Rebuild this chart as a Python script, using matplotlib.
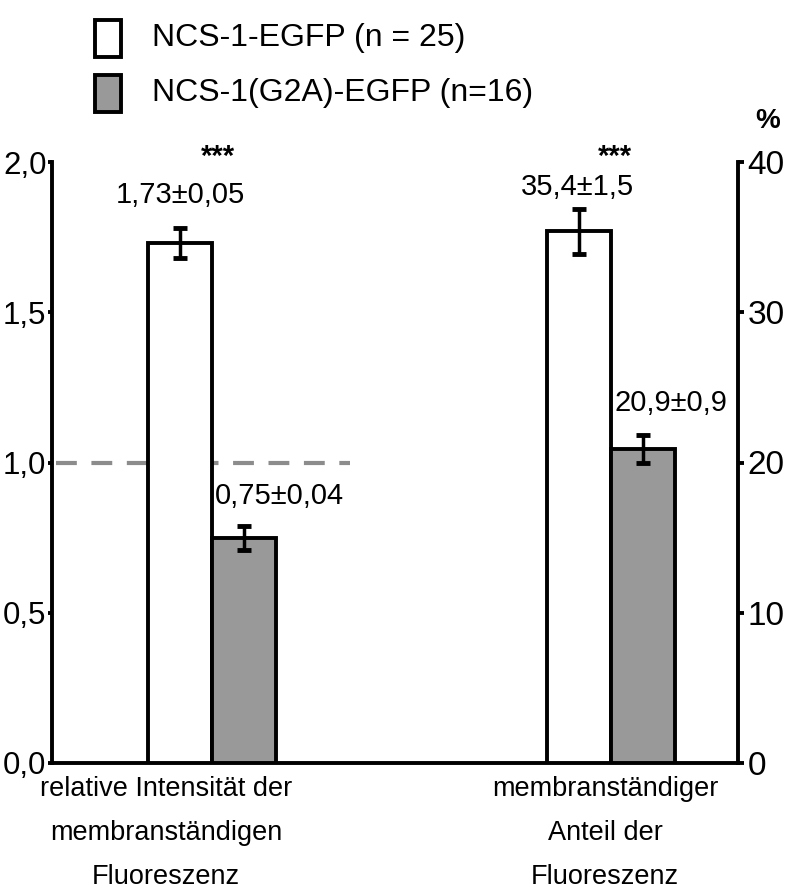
import matplotlib
matplotlib.use("Agg")
import matplotlib.pyplot as plt
from matplotlib.patches import Rectangle

# données
series = ["NCS-1-EGFP (n = 25)", "NCS-1(G2A)-EGFP (n=16)"]
colors = ["white", "#999999"]
rel_int = [1.73, 0.75]
rel_err = [0.05, 0.04]
rel_txt = ["1,73±0,05", "0,75±0,04"]
anteil = [35.4, 20.9]
anteil_err = [1.5, 0.9]
anteil_txt = ["35,4±1,5", "20,9±0,9"]
cat_labels = ["relative Intensität der\nmembranständigen\nFluoreszenz",
              "membranständiger\nAnteil der\nFluoreszenz"]
left_ticks = [0.0, 0.5, 1.0, 1.5, 2.0]
left_ticklabels = ["0,0", "0,5", "1,0", "1,5", "2,0"]
right_ticks = [0, 10, 20, 30, 40]

plt.rcParams["font.family"] = ["Liberation Sans", "DejaVu Sans"]

fig = plt.figure(figsize=(7.99, 8.91), dpi=100)
ax = fig.add_axes([52/799, 128/891, 686/799, 601/891])
ax2 = ax.twinx()

w = 0.16
lw = 2.8
ax.bar([-w/2, w/2], rel_int, width=w, color=colors, edgecolor="black", linewidth=lw, zorder=3)
ax.errorbar([-w/2, w/2], rel_int, yerr=rel_err, fmt="none", ecolor="black",
            elinewidth=2.5, capsize=5, capthick=3.5, zorder=4)
ax2.bar([1 - w/2, 1 + w/2], anteil, width=w, color=colors, edgecolor="black", linewidth=lw, zorder=3)
ax2.errorbar([1 - w/2, 1 + w/2], anteil, yerr=anteil_err, fmt="none", ecolor="black",
             elinewidth=2.5, capsize=5, capthick=3.5, zorder=4)

xl = (-0.401, 1.318)
ax.set_xlim(xl)
ax.set_ylim(0, 2.0)
ax2.set_ylim(0, 40)

# ligne de référence
ax.hlines(1.0, xl[0] + 0.01, 0.345, colors="#8c8c8c", linewidth=3, linestyles=(0, (5, 3.5)), zorder=2)

for a in (ax, ax2):
    a.spines["top"].set_visible(False)
    for s in a.spines.values():
        s.set_linewidth(lw)
ax.spines["right"].set_visible(False)
ax2.spines["left"].set_visible(False)
ax2.spines["bottom"].set_visible(False)

ax.set_yticks(left_ticks)
ax.set_yticklabels(left_ticklabels)
ax.tick_params(axis="y", length=3, width=lw, labelsize=22.5, pad=1)
ax2.set_yticks(right_ticks)
ax2.tick_params(axis="y", length=4, width=lw, labelsize=24, pad=3)
ax.set_xticks([])

# valeurs
ax.text(-w/2, rel_int[0] + 0.16, rel_txt[0], ha="center", va="center", fontsize=21)
ax.text(w/2 + 0.09, rel_int[1] + 0.139, rel_txt[1], ha="center", va="center", fontsize=21)
ax2.text(1 - w/2 - 0.005, anteil[0] + 2.95, anteil_txt[0], ha="center", va="center", fontsize=21)
ax2.text(1 + w/2 + 0.07, anteil[1] + 3.06, anteil_txt[1], ha="center", va="center", fontsize=21)
ax.text(0.015, 2.018, "***", ha="center", va="center", fontsize=21, fontweight="bold", clip_on=False)
ax.text(1.01, 2.018, "***", ha="center", va="center", fontsize=21, fontweight="bold", clip_on=False)
ax2.text(1.318 + 0.075, 42.7, "%", ha="center", va="center", fontsize=20, fontweight="bold", clip_on=False)

# étiquettes des catégories
ax.text(-0.115, -0.042, cat_labels[0], ha="center", va="top", fontsize=19.5, linespacing=1.9)
ax.text(0.985, -0.042, cat_labels[1], ha="center", va="top", fontsize=19.5, linespacing=1.9)

# légende
for i, (lab, c) in enumerate(zip(series, colors)):
    y0 = 891 - 57 - i * 55
    fig.patches.append(Rectangle((95/799, y0/891), 26/799, 37/891, transform=fig.transFigure,
                                 facecolor=c, edgecolor="black", linewidth=2.8))
    fig.text(152/799, (y0 + 19)/891, lab, ha="left", va="center", fontsize=23)

fig.savefig("out.png", dpi=100)
